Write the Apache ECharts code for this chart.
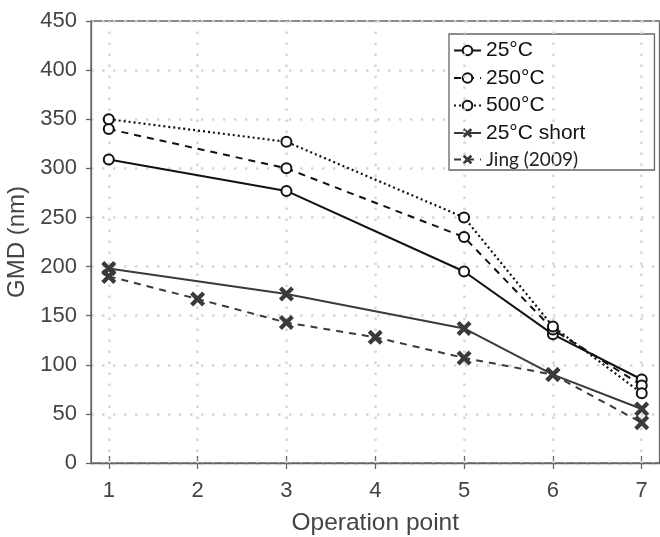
<!DOCTYPE html>
<html><head><meta charset="utf-8">
<script src="https://cdn.jsdelivr.net/npm/echarts@6/dist/echarts.min.js"></script>
<style>html,body{margin:0;padding:0;background:#fff}#c{width:660px;height:537px}</style>
</head><body><div id="c"></div>
<script>
const xValues = [1, 2, 3, 4, 5, 6, 7];
const xTicks = [1, 2, 3, 4, 5, 6, 7];
const yTicks = [0, 50, 100, 150, 200, 250, 300, 350, 400, 450];
const s25 = [[1, 309], [3, 277], [5, 195], [6, 131], [7, 85]];
const s250 = [[1, 340], [3, 300], [5, 230], [6, 136], [7, 79]];
const s500 = [[1, 350], [3, 327], [5, 250], [6, 139], [7, 71]];
const s25short = [[1, 198], [3, 172], [5, 137], [6, 90], [7, 55]];
const jing = [[1, 190], [2, 167], [3, 143], [4, 128], [5, 107], [6, 90], [7, 41]];

const FONT = "'Liberation Sans', Arial, sans-serif";
const X_PATH = 'path://M0,2 L2,0 L5,3 L8,0 L10,2 L7,5 L10,8 L8,10 L5,7 L2,10 L0,8 L3,5 Z';
const gridDot = { color: '#d6d6d6', width: 2.5, type: [2.5, 8.5] };
const axisCol = '#666';
const chart = echarts.init(document.getElementById('c'));
function lineSeries(name, data, color, type, symbol, size, width) {
  return {
    name, type: 'line', data, z: 5,
    symbol, symbolSize: size,
    showSymbol: true,
    lineStyle: { color, width, type },
    itemStyle: { color, borderWidth: symbol === 'emptyCircle' ? 2 : 0 },
    emphasis: { disabled: true },
    animation: false
  };
}
const series = [
  lineSeries('25°C', s25, '#111', 'solid', 'emptyCircle', 10, 2),
  lineSeries('250°C', s250, '#111', [7, 6], 'emptyCircle', 10, 2),
  lineSeries('500°C', s500, '#111', [2, 3], 'emptyCircle', 10, 2.2),
  lineSeries('25°C short', s25short, '#3a3a3a', 'solid', X_PATH, 15, 2),
  lineSeries('Jing (2009)', jing, '#3a3a3a', [7, 6], X_PATH, 15, 2)
];
series.push({
  type: 'line', data: [], silent: true, z: 1,
  markLine: {
    silent: true, symbol: 'none', animation: false,
    label: { show: false },
    lineStyle: gridDot,
    data: xTicks.map(v => ({ xAxis: v }))
  }
});
chart.setOption({
  animation: false,
  backgroundColor: '#fff',
  grid: { left: 91, right: 0.5, top: 21, bottom: 74, containLabel: false, outerBoundsMode: 'none',
    show: true, borderColor: axisCol, borderWidth: 1.3, backgroundColor: 'transparent' },
  legend: {
    orient: 'vertical', left: 449, top: 34,
    data: ['25°C', '250°C', '500°C', '25°C short', 'Jing (2009)'],
    itemWidth: 27, itemHeight: 12, itemGap: 6.5,
    padding: [6, 69, 1, 4],
    backgroundColor: '#fff', borderColor: axisCol, borderWidth: 1.3, borderRadius: 0,
    textStyle: { fontFamily: FONT, fontSize: 21, color: '#111',
      rich: { j: { fontFamily: 'Lato, sans-serif', fontSize: 19, color: '#222' } } },
    formatter: n => n === 'Jing (2009)' ? '{j|' + n + '}' : n
  },
  xAxis: [{
    type: 'value', min: 0.8, max: 7.2,
    name: 'Operation point', nameLocation: 'middle', nameGap: 48,
    nameTextStyle: { fontFamily: FONT, fontSize: 24.5, color: '#444' },
    axisLine: { show: true, onZero: false, lineStyle: { color: axisCol, width: 1.3 } },
    axisTick: { show: true, length: 6, customValues: xTicks, lineStyle: { color: axisCol, width: 1.3 } },
    axisLabel: { customValues: xTicks, fontFamily: FONT, fontSize: 22, color: '#444', margin: 17 },
    splitLine: { show: false }
  }, {
    type: 'value', min: 0.8, max: 7.2, position: 'top',
    axisLine: { show: false },
    axisTick: { show: true, length: 7, customValues: xTicks, lineStyle: { color: axisCol, width: 1.3 } },
    axisLabel: { show: false },
    splitLine: { show: false }
  }],
  yAxis: {
    type: 'value', min: 0, max: 450, interval: 50,
    name: 'GMD (nm)', nameLocation: 'middle', nameGap: 59, nameRotate: 90,
    nameTextStyle: { fontFamily: FONT, fontSize: 24, color: '#444' },
    axisLine: { show: true, lineStyle: { color: axisCol, width: 1.3 } },
    axisTick: { show: true, length: 5, lineStyle: { color: axisCol, width: 1.3 } },
    axisLabel: { fontFamily: FONT, fontSize: 22, color: '#444', margin: 14,
      formatter: v => yTicks.includes(v) ? String(v) : '' },
    splitLine: { show: true, lineStyle: gridDot }
  },
  series
});
</script></body></html>
